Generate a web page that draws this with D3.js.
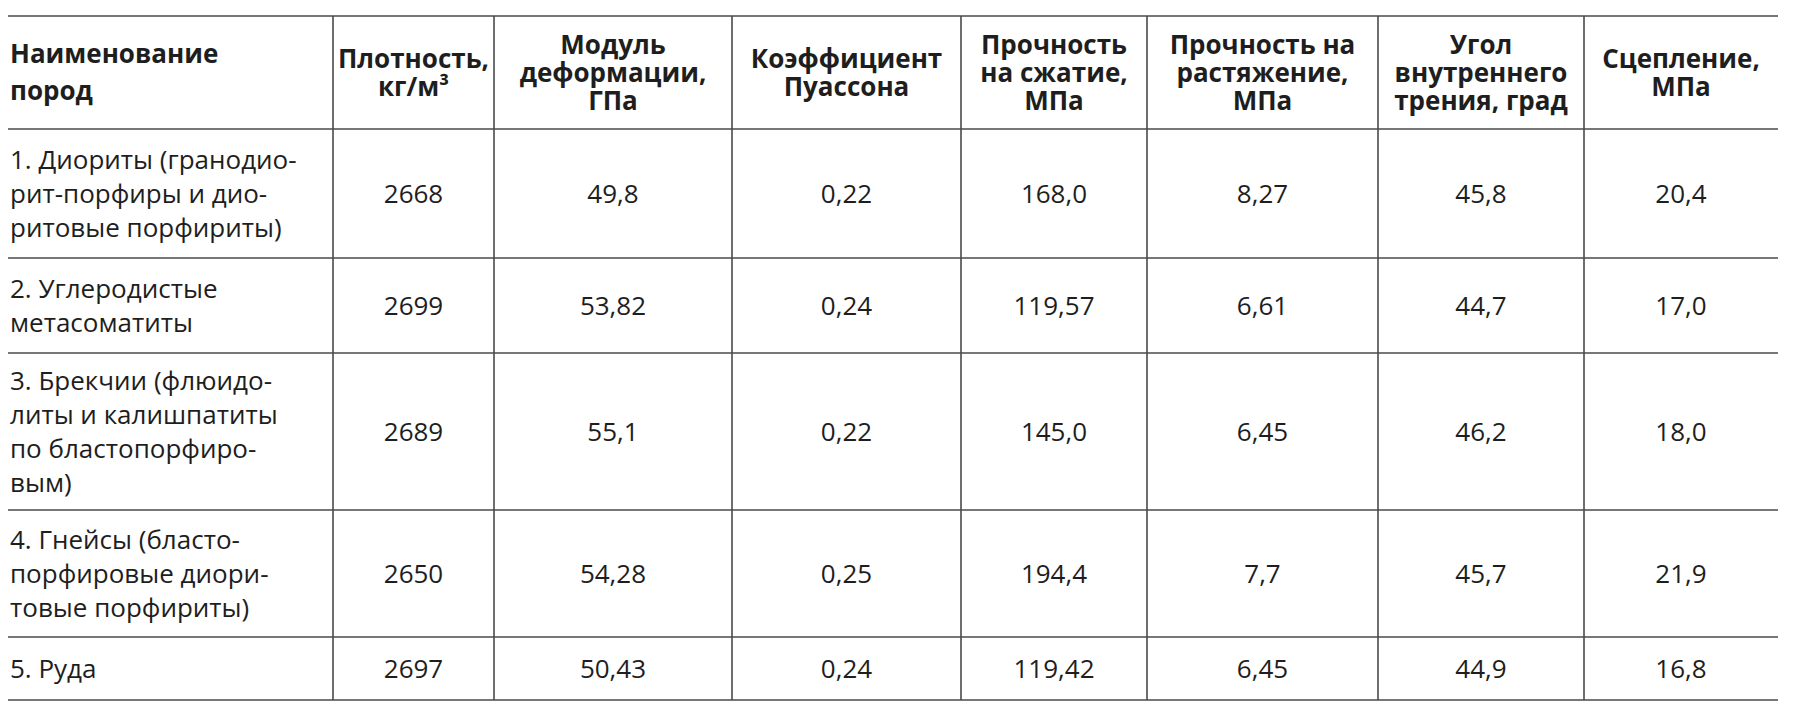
<!DOCTYPE html>
<html><head><meta charset="utf-8">
<script src="https://cdn.jsdelivr.net/npm/d3@7"></script>
<style>body{margin:0;background:#fff}</style>
</head><body>
<script>
var WIDTH = 1793, HEIGHT = 713;

var headers = [
  ["Наименование", "пород"],
  ["Плотность,", "кг/м³"],
  ["Модуль", "деформации,", "ГПа"],
  ["Коэффициент", "Пуассона"],
  ["Прочность", "на сжатие,", "МПа"],
  ["Прочность на", "растяжение,", "МПа"],
  ["Угол", "внутреннего", "трения, град"],
  ["Сцепление,", "МПа"]
];
var rocks = [
  ["1. Диориты (гранодио-", "рит-порфиры и дио-", "ритовые порфириты)"],
  ["2. Углеродистые", "метасоматиты"],
  ["3. Брекчии (флюидо-", "литы и калишпатиты", "по бластопорфиро-", "вым)"],
  ["4. Гнейсы (бласто-", "порфировые диори-", "товые порфириты)"],
  ["5. Руда"]
];
var density = ["2668", "2699", "2689", "2650", "2697"];
var modulus = ["49,8", "53,82", "55,1", "54,28", "50,43"];
var poisson = ["0,22", "0,24", "0,22", "0,25", "0,24"];
var compress = ["168,0", "119,57", "145,0", "194,4", "119,42"];
var tension = ["8,27", "6,61", "6,45", "7,7", "6,45"];
var friction = ["45,8", "44,7", "46,2", "45,7", "44,9"];
var cohesion = ["20,4", "17,0", "18,0", "21,9", "16,8"];

// column and row edges
var colEdges = [8, 333, 494, 732, 961, 1147, 1378, 1584, 1778];
var rowEdges = [16, 129, 258, 353, 510, 637, 700];

var columns = [density, modulus, poisson, compress, tension, friction, cohesion];

var svg = d3.select("body").append("svg")
    .attr("width", WIDTH)
    .attr("height", HEIGHT)
    .style("font-family", "'Open Sans', Lato, sans-serif");

var line = "#4a4a4a";

// horizontal rules
svg.selectAll(".hline").data(rowEdges).enter().append("line")
  .attr("x1", colEdges[0]).attr("x2", colEdges[colEdges.length - 1])
  .attr("y1", function(d) { return d; }).attr("y2", function(d) { return d; })
  .attr("stroke", line).attr("stroke-width", 1.6);

// vertical rules (inner only)
svg.selectAll(".vline").data(colEdges.slice(1, -1)).enter().append("line")
  .attr("x1", function(d) { return d; }).attr("x2", function(d) { return d; })
  .attr("y1", rowEdges[0]).attr("y2", rowEdges[rowEdges.length - 1])
  .attr("stroke", line).attr("stroke-width", 1.6);

function block(lines, x, yTop, yBot, anchor, size, lh, weight) {
  var mid = (yTop + yBot) / 2,
      start = mid - (lines.length - 1) * lh / 2;
  var t = svg.append("text")
    .attr("text-anchor", anchor)
    .attr("font-size", size)
    .attr("font-weight", weight)
    .attr("fill", "#1e1e1e");
  lines.forEach(function(s, i) {
    t.append("tspan").attr("x", x).attr("y", start + i * lh).attr("dy", "0.36em").text(s);
  });
}

// header
headers.forEach(function(h, i) {
  if (i === 0) block(h, colEdges[0] + 2, rowEdges[0], rowEdges[1], "start", 26, 37, 700);
  else block(h, (colEdges[i] + colEdges[i + 1]) / 2, rowEdges[0], rowEdges[1], "middle", 26, 28, 700);
});

// body
rocks.forEach(function(r, j) {
  var y0 = rowEdges[j + 1], y1 = rowEdges[j + 2];
  block(r, colEdges[0] + 2, y0, y1, "start", 26, 34, 400);
  columns.forEach(function(col, i) {
    block([col[j]], (colEdges[i + 1] + colEdges[i + 2]) / 2, y0, y1, "middle", 26, 34, 400);
  });
});
</script>
</body></html>
